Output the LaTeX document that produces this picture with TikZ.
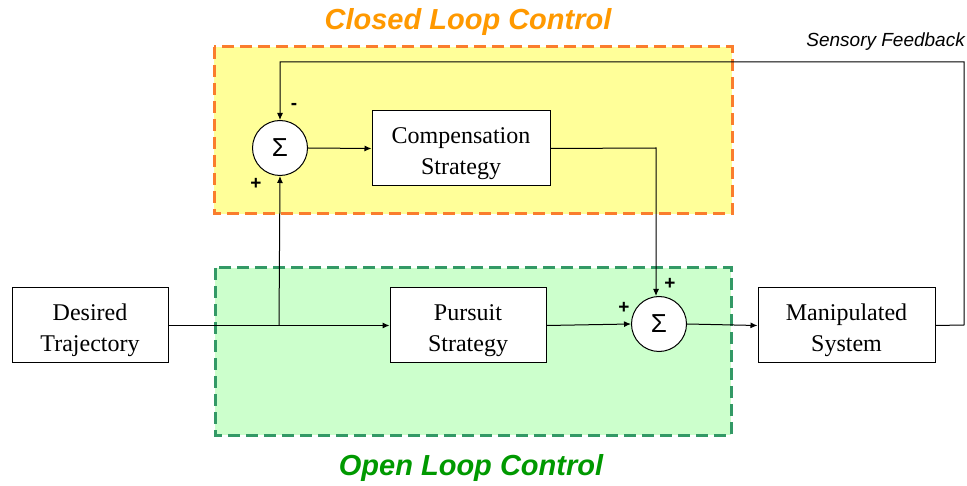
\documentclass[tikz,border=0pt]{standalone}
\usepackage{fontspec}
\setmainfont{Liberation Serif}
\setsansfont{Liberation Sans}
\usetikzlibrary{arrows.meta}
\definecolor{yfill}{RGB}{255,255,153}
\definecolor{yborder}{RGB}{250,125,45}
\definecolor{gfill}{RGB}{204,255,204}
\definecolor{gborder}{RGB}{51,153,102}
\definecolor{otitle}{RGB}{255,153,0}
\definecolor{gtitle}{RGB}{0,153,0}
\newcommand{\blktext}[2]{\raisebox{-4pt}[\height][\depth]{\begin{tabular}{@{}c@{}}#1\\#2\end{tabular}}}
\begin{document}
\begin{tikzpicture}[x=1pt,y=-1pt,
  blk/.style={draw,fill=white,line width=1pt,inner sep=0pt,font=\fontsize{24}{31}\selectfont,align=center},
  sumnode/.style={draw,fill=white,circle,line width=1pt,minimum size=55pt,inner sep=0pt,font=\sffamily\fontsize{26}{28}\selectfont},
  conn/.style={line width=1pt,-{Latex[length=7pt,width=6pt]}},
  sign/.style={font=\sffamily\bfseries\fontsize{19}{19}\selectfont,inner sep=0pt},
  title/.style={font=\sffamily\bfseries\itshape\fontsize{29}{31}\selectfont,inner sep=0pt}]
\useasboundingbox (0,0) rectangle (967,486);
\fill[white] (0,0) rectangle (967,486);
% regions
\draw[fill=yfill,draw=yborder,line width=3pt,dash pattern=on 12pt off 6pt] (214,47) rectangle (732,214);
\draw[fill=gfill,draw=gborder,line width=3pt,dash pattern=on 12pt off 6pt] (215,268) rectangle (731,435);
\node[title,text=otitle] (tc) at (468,22) {Closed Loop Control};
\node[title,text=gtitle] (to) at (471,468) {Open Loop Control};
% blocks
\node[blk,minimum width=156pt,minimum height=75pt] (dt) at (90,325.5) {\blktext{Desired}{Trajectory}};
\node[blk,minimum width=156pt,minimum height=75pt] (ps) at (468,325.5) {\blktext{Pursuit}{Strategy}};
\node[blk,minimum width=178pt,minimum height=75pt] (cs) at (461,148.5) {\blktext{Compensation}{Strategy}};
\node[blk,minimum width=177pt,minimum height=75pt] (ms) at (846.5,325.5) {\blktext{Manipulated}{System}};
\node[sumnode] (s1) at (280,148) {Σ};
\node[sumnode] (s2) at (659,324) {Σ};
% signs
\node[sign] (m1) at (294,106) {-};
\node[sign] (p1) at (256,184) {+};
\node[sign] (p2) at (624,308) {+};
\node[sign] (p3) at (670,284) {+};
% feedback label
\node[font=\sffamily\itshape\fontsize{19}{21}\selectfont,anchor=east,inner sep=0pt] (sf) at (965,42) {Sensory Feedback};
% connectors
\coordinate (br) at (279,325);
\coordinate (fb1) at (964,325);
\coordinate (fb2) at (964,62);
\coordinate (fb3) at (280,62);
\coordinate (cc) at (656,148);
\draw[conn] (dt.east) -- (ps.west);
\draw[conn] (br) -- (s1.south);
\draw[conn] (s1.east) -- (cs.west);
\draw[conn] (cs.east) -- (cc) -- (s2.north -| cc);
\draw[conn] (ps.east) -- (s2.west);
\draw[conn] (s2.east) -- (ms.west);
\draw[conn] (ms.east) -- (fb1) -- (fb2) -- (fb3) -- (s1.north);
\end{tikzpicture}
\end{document}
